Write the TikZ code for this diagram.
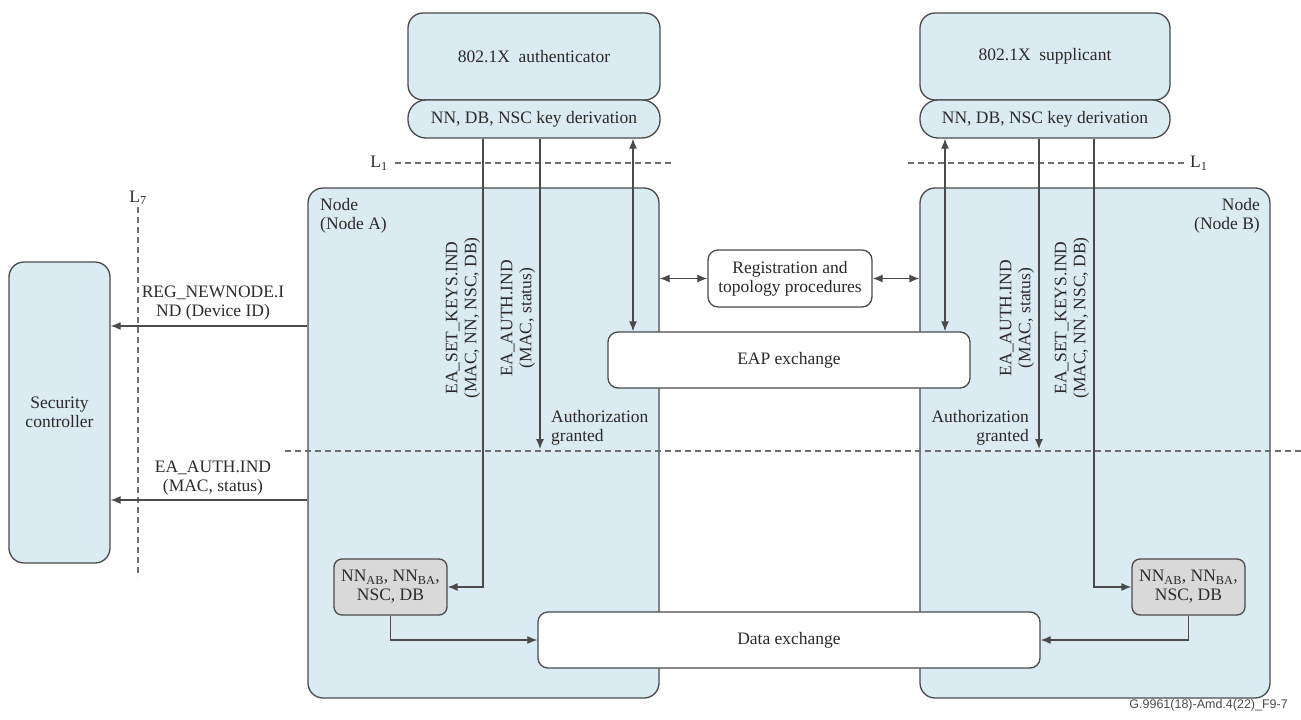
\documentclass[tikz,border=0pt]{standalone}
\usepackage{fontspec}
\setmainfont{Liberation Serif}
\newfontfamily\footfont{Liberation Sans}
\usetikzlibrary{arrows.meta,calc}
\definecolor{nodeblue}{HTML}{DAEBF1}
\definecolor{grayfill}{HTML}{D9D9D9}
\definecolor{edgecol}{HTML}{4A4A4A}
\definecolor{txtcol}{HTML}{2A2A2A}
\begin{document}
\begin{tikzpicture}[x=1pt,y=-1pt,
  font=\fontsize{17.5}{19}\selectfont, text=txtcol,
  bluebox/.style={draw=edgecol, fill=nodeblue, line width=1.3pt, rounded corners=15pt, inner sep=0pt, align=center},
  whitebox/.style={draw=edgecol, fill=white, line width=1.3pt, rounded corners=10pt, inner sep=0pt, align=center},
  graybox/.style={draw=edgecol, fill=grayfill, line width=1.3pt, rounded corners=8pt, inner sep=0pt, align=center},
  conn/.style={draw=edgecol, line width=1.2pt},
  arr/.style={conn, -{Latex[length=10pt,width=8pt]}},
  darr/.style={conn, {Latex[length=10pt,width=8pt]}-{Latex[length=10pt,width=8pt]}},
  dashline/.style={draw=edgecol!80, line width=1.1pt, dash pattern=on 6pt off 4pt},
  lbl/.style={inner sep=0pt, align=center},
  vlbl/.style={inner sep=0pt, align=center, rotate=90}
]
\useasboundingbox (0,0) rectangle (1301,720);

% top boxes
\node[bluebox, minimum width=252pt, minimum height=87pt] (auth) at (534,56.5) {802.1X\ \ authenticator};
\node[bluebox, rounded corners=18pt, minimum width=252pt, minimum height=38pt] (authkd) at (534,119) {NN, DB, NSC key derivation};
\node[bluebox, minimum width=250pt, minimum height=87pt] (supp) at (1045,56.5) {802.1X\ \ supplicant};
\node[bluebox, rounded corners=18pt, minimum width=250pt, minimum height=38pt] (suppkd) at (1045,119) {NN, DB, NSC key derivation};

% node boxes
\node[bluebox, minimum width=351pt, minimum height=510pt] (nodeA) at (483.5,443) {};
\node[bluebox, minimum width=350pt, minimum height=510pt] (nodeB) at (1095,443) {};
\node[bluebox, minimum width=101pt, minimum height=301pt] (secctl) at (59.5,412.5) {Security\\controller};

\node[lbl, anchor=north west, align=left] (nodeAlbl) at (320,198) {Node\\(Node A)};
\node[lbl, anchor=north east, align=right] (nodeBlbl) at (1260,198) {Node\\(Node B)};

% center boxes
\node[whitebox, minimum width=164pt, minimum height=57pt] (reg) at (790,278.5) {Registration and\\topology procedures};
\node[whitebox, minimum width=362pt, minimum height=56pt] (eap) at (789,360) {EAP exchange};
\node[whitebox, minimum width=502pt, minimum height=56pt] (data) at (789,640) {Data exchange};

\node[graybox, minimum width=113pt, minimum height=56pt] (nnA) at (390.5,587) {NN\textsubscript{AB}, NN\textsubscript{BA},\\NSC, DB};
\node[graybox, minimum width=113pt, minimum height=56pt] (nnB) at (1188.5,587) {NN\textsubscript{AB}, NN\textsubscript{BA},\\NSC, DB};

% dashed reference lines
\coordinate (l1a) at (395,163);
\coordinate (l1b) at (672,163);
\draw[dashline] (l1a) -- (l1b);
\node[lbl, anchor=east] (l1alabel) at (388,163) {L\textsubscript{1}};
\coordinate (l1c) at (908,163);
\coordinate (l1d) at (1184,163);
\draw[dashline] (l1c) -- (l1d);
\node[lbl, anchor=west] (l1blabel) at (1190,163) {L\textsubscript{1}};

\coordinate (hda) at (285,451);
\coordinate (hdb) at (1301,451);
\draw[dashline] (hda) -- (hdb);

\coordinate (l7a) at (138,207);
\coordinate (l7b) at (138,577);
\draw[dashline] (l7a) -- (l7b);
\node[lbl, anchor=south] (l7label) at (138,205) {L\textsubscript{7}};

% vertical x positions
\coordinate (xa1) at (483,0);
\coordinate (xa2) at (540,0);
\coordinate (xa3) at (633,0);
\coordinate (xb1) at (945,0);
\coordinate (xb2) at (1039,0);
\coordinate (xb3) at (1094,0);
\coordinate (grA) at (540,449);
\coordinate (grB) at (1039,449);

% node A side connectors
\draw[arr] (authkd.south -| xa1) |- (nnA.east);
\draw[arr] (authkd.south -| xa2) -- (grA);
\draw[darr] (authkd.south -| xa3) -- (eap.north -| xa3);
% node B side connectors
\draw[darr] (suppkd.south -| xb1) -- (eap.north -| xb1);
\draw[arr] (suppkd.south -| xb2) -- (grB);
\draw[arr] (suppkd.south -| xb3) |- (nnB.west);

\draw[arr] (nnA.south) |- (data.west);
\draw[arr] (nnB.south) |- (data.east);

\draw[darr] (nodeA.east |- reg.west) -- (reg.west);
\draw[darr] (reg.east) -- (nodeB.west |- reg.east);

% to security controller
\coordinate (yreg) at (0,326);
\coordinate (yauth) at (0,500);
\draw[arr] (nodeA.west |- yreg) -- (secctl.east |- yreg);
\draw[arr] (nodeA.west |- yauth) -- (secctl.east |- yauth);
\node[lbl] (reglbl) at (213,303.5) {REG\_NEWNODE.I\\ND (Device ID)};
\node[lbl] (authlbl) at (213,478) {EA\_AUTH.IND\\(MAC, status)};

% rotated labels
\node[vlbl] (setkA) at (463,318) {EA\_SET\_KEYS.IND\\(MAC, NN, NSC, DB)};
\node[vlbl] (authA) at (518,318) {EA\_AUTH.IND\\(MAC, status)};
\node[vlbl] (authB) at (1017,318) {EA\_AUTH.IND\\(MAC, status)};
\node[vlbl] (setkB) at (1072,318) {EA\_SET\_KEYS.IND\\(MAC, NN, NSC, DB)};

\node[lbl, anchor=west, align=left] (grAlbl) at (551,428) {Authorization\\granted};
\node[lbl, anchor=east, align=right] (grBlbl) at (1029,428) {Authorization\\granted};

\node[lbl, anchor=east, text=edgecol, font=\footfont\fontsize{12.5}{14}\selectfont] (foot) at (1288,705) {G.9961(18)-Amd.4(22)\_F9-7};
\end{tikzpicture}
\end{document}
